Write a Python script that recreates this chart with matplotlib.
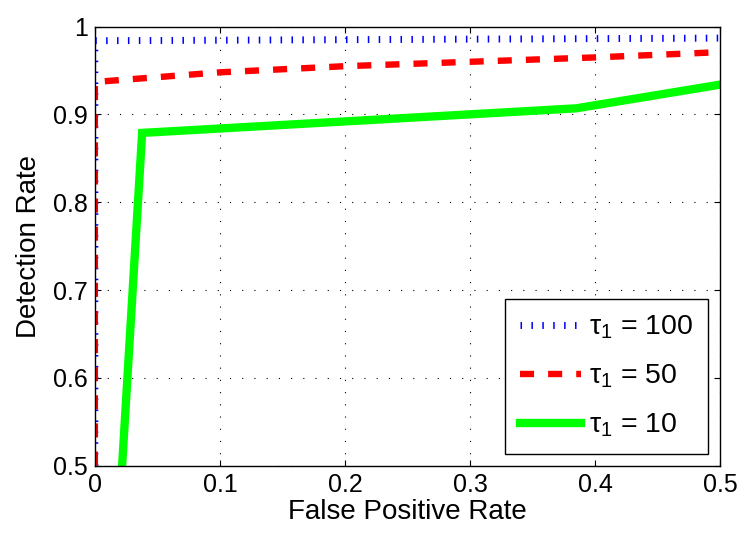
import matplotlib
matplotlib.use('Agg')
import matplotlib.pyplot as plt

plt.rcParams['font.family'] = ['Liberation Sans', 'DejaVu Sans']
plt.rcParams['mathtext.fontset'] = 'custom'
plt.rcParams['mathtext.rm'] = 'Liberation Sans'
plt.rcParams['mathtext.it'] = 'Liberation Sans'

# ROC points
fpr_100 = [0.0, 0.0, 0.5]
tpr_100 = [0.5, 0.984, 0.987]

fpr_50 = [0.0, 0.0, 0.1, 0.2, 0.3, 0.4, 0.5]
tpr_50 = [0.5, 0.937, 0.948, 0.955, 0.960, 0.965, 0.971]

fpr_10 = [0.0218, 0.0378, 0.385, 0.5]
tpr_10 = [0.5, 0.879, 0.907, 0.934]

labels = [r'$\tau_1$ = 100', r'$\tau_1$ = 50', r'$\tau_1$ = 10']
xticks = [0, 0.1, 0.2, 0.3, 0.4, 0.5]
xtick_labels = ['0', '0.1', '0.2', '0.3', '0.4', '0.5']
yticks = [0.5, 0.6, 0.7, 0.8, 0.9, 1.0]
ytick_labels = ['0.5', '0.6', '0.7', '0.8', '0.9', '1']

dpi = 100
fig = plt.figure(figsize=(747 / dpi, 538 / dpi), dpi=dpi)
ax = fig.add_axes([0.127, 0.1346, 0.837, 0.8158])

ax.plot(fpr_100, tpr_100, color='blue', linewidth=5.0,
        linestyle=(0, (0.22, 1.35)), dash_capstyle='butt', label=labels[0])
ax.plot(fpr_50, tpr_50, color='red', linewidth=4.6,
        linestyle=(0, (2.2, 2.2)), dash_capstyle='butt', label=labels[1])
ax.plot(fpr_10, tpr_10, color='#00ff00', linewidth=6.0,
        solid_joinstyle='miter', label=labels[2])

ax.set_xlim(0, 0.5)
ax.set_ylim(0.5, 1.0)
ax.set_xticks(xticks)
ax.set_xticklabels(xtick_labels)
ax.set_yticks(yticks)
ax.set_yticklabels(ytick_labels)
ax.tick_params(direction='in', length=4, width=0.8, labelsize=18,
               top=True, right=True, pad=5)
ax.grid(True, color='black', linestyle=(0, (1, 10)), linewidth=0.8)
for s in ax.spines.values():
    s.set_linewidth(1.0)

ax.set_xlabel('False Positive Rate', fontsize=20, labelpad=2)
ax.set_ylabel('Detection Rate', fontsize=20, labelpad=8)

leg = ax.legend(loc='lower right', bbox_to_anchor=(0.981, 0.026),
                fontsize=20.5, handlelength=2.15, labelspacing=0.76,
                handletextpad=0.3, borderpad=0.52, borderaxespad=0,
                fancybox=False, framealpha=1, edgecolor='black')
leg.get_frame().set_linewidth(1.0)

fig.savefig('out.png', dpi=dpi)
